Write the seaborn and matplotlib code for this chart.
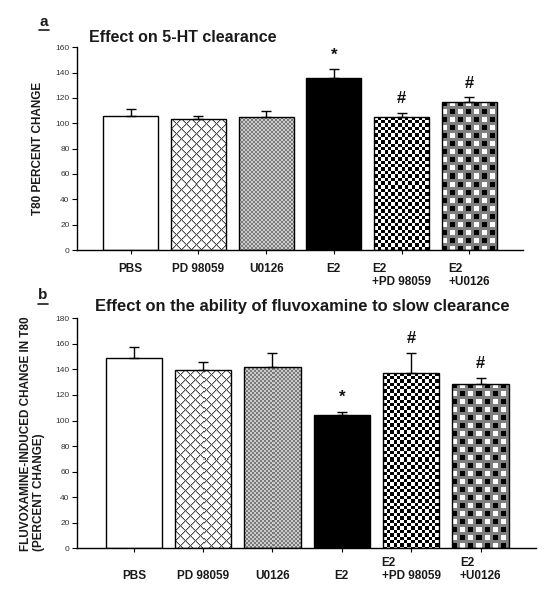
import numpy as np
import pandas as pd
import seaborn as sns
import matplotlib.pyplot as plt
from matplotlib.lines import Line2D

# ---------------- data ----------------
categories = ["PBS", "PD 98059", "U0126", "E2", "E2\n+PD 98059", "E2\n+U0126"]
clearance_mean = [105.8, 103.6, 104.7, 135.7, 105.3, 117.2]
clearance_sem = [5.8, 2.4, 5.3, 7.1, 2.9, 3.4]
fluvox_mean = [149.2, 139.5, 142.1, 104.5, 137.2, 128.8]
fluvox_sem = [8.1, 6.0, 10.9, 2.4, 15.8, 4.7]
marks = ["", "", "", "*", "#", "#"]
clearance_ticks = [0, 20, 40, 60, 80, 100, 120, 140, 160]
fluvox_ticks = [0, 20, 40, 60, 80, 100, 120, 140, 160, 180]
patterns = ["white", "cross", "fine", "black", "checker", "grid"]

sns.set_theme(style="ticks")
plt.rcParams["font.family"] = ["Liberation Sans", "DejaVu Sans"]

W, H = 545, 600
fig = plt.figure(figsize=(W / 100, H / 100), dpi=100)
fig.patch.set_facecolor("white")


def texture(kind, h, w):
    i, j = np.mgrid[0:h, 0:w]
    img = np.ones((h, w, 3))
    if kind == "cross":
        d1 = (i + j) % 10
        d2 = (i - j) % 10
        soft = (d1 == 1) | (d2 == 1)
        line = (d1 == 0) | (d2 == 0)
        img[soft] = 0.72
        img[line] = 0.30
    elif kind == "fine":
        c = ((i // 2 + j // 2) % 2).astype(bool)
        img[c] = 0.48
        img[~c] = 0.80
    elif kind == "checker":
        c = ((np.floor(i / 3.4) + np.floor(j / 3.4)) % 2).astype(bool)
        img[c] = 0.0
        img[~c] = 1.0
    elif kind == "grid":
        img[:] = 0.50
        sq = (i % 8 < 5) & (j % 8 < 5)
        blk = ((i // 8 + j // 8) % 2 == 0)
        img[sq & blk] = 0.0
        img[sq & ~blk] = 1.0
    return img


def panel(rect, means, sems, ticks, xlim, single_prefix, xpad):
    ax = fig.add_axes(rect)
    df = pd.DataFrame({"group": categories, "value": means})
    sns.barplot(data=df, x="group", y="value", order=categories, color="white",
                saturation=1, edgecolor="black", linewidth=1.0, width=0.81,
                errorbar=None, ax=ax)
    ax.set_xlim(*xlim)
    ax.set_ylim(ticks[0], ticks[-1])
    ax.set_autoscale_on(False)
    for p, kind in zip(ax.patches, patterns):
        if kind == "white":
            p.set_facecolor("white")
            continue
        if kind == "black":
            p.set_facecolor("black")
            continue
        p.set_facecolor("none")
        x0, y0, w, h = p.get_x(), p.get_y(), p.get_width(), p.get_height()
        (px0, py0) = ax.transData.transform((x0, y0))
        (px1, py1) = ax.transData.transform((x0 + w, y0 + h))
        npx = max(1, int(round(px1 - px0)))
        npy = max(1, int(round(py1 - py0)))
        im = ax.imshow(texture(kind, npy, npx), extent=(x0, x0 + w, y0, y0 + h),
                       origin="upper", interpolation="nearest", aspect="auto",
                       zorder=p.get_zorder() - 0.01)
        im.set_clip_path(p)
    ax.set_xlim(*xlim)
    ax.set_ylim(ticks[0], ticks[-1])
    xs = np.arange(len(categories))
    ax.errorbar(xs, means, yerr=[np.zeros(len(sems)), sems], fmt="none",
                ecolor="black", elinewidth=1.0, capsize=3.5, capthick=1.0, zorder=3)
    for x, m, s, t in zip(xs, means, sems, marks):
        if t:
            ax.text(x, m + s + 11, t, ha="center", va="center", fontsize=12,
                    fontweight="bold", color="#111111")
    ax.set_yticks(ticks)
    ax.set_yticklabels([str(t) for t in ticks])
    labs = [(single_prefix + c) if "\n" not in c else c for c in categories]
    ax.set_xticks(xs)
    ax.set_xticklabels(labs, fontsize=8.5, fontweight="bold", color="#1a1a1a",
                       multialignment="left", linespacing=1.1)
    ax.set_xlabel("")
    ax.tick_params(axis="y", direction="out", length=3.5, width=0.8, labelsize=6,
                   pad=2, labelcolor="#333333", color="black")
    ax.tick_params(axis="x", direction="out", length=3, width=0.8, pad=xpad,
                   color="black")
    sns.despine(ax=ax)
    for sp in ("left", "bottom"):
        ax.spines[sp].set_linewidth(1.0)
        ax.spines[sp].set_color("black")
    return ax


ax1 = panel([77.3 / W, 1 - 250 / H, (523 - 77.3) / W, (250 - 47.3) / H],
            clearance_mean, clearance_sem, clearance_ticks, (-0.79, 5.795), "", 6.5)
ax1.set_ylabel("T80 PERCENT CHANGE", fontsize=8.5, fontweight="bold", color="#1a1a1a")
ax1.yaxis.set_label_coords((44 - 77.3) / (523 - 77.3), 0.5)

ax2 = panel([77.3 / W, 1 - 548.3 / H, (536 - 77.3) / W, (548.3 - 318.3) / H],
            fluvox_mean, fluvox_sem, fluvox_ticks, (-0.815, 5.80), "\n", 3.5)
ax2.set_ylabel("FLUVOXAMINE-INDUCED CHANGE IN T80\n(PERCENT CHANGE)", fontsize=8.5,
               fontweight="bold", color="#1a1a1a", multialignment="left",
               linespacing=1.1)
ax2.yaxis.set_label_coords((45 - 77.3) / (536 - 77.3), 0.5)

fig.text(183 / W, 1 - 37 / H, "Effect on 5-HT clearance", ha="center", va="center",
         fontsize=11.5, fontweight="bold", color="#1a1a1a")
fig.text(302 / W, 1 - 307 / H, "Effect on the ability of fluvoxamine to slow clearance",
         ha="center", va="center", fontsize=11.9, fontweight="bold", color="#1a1a1a")

fig.text(44 / W, 1 - 22 / H, "a", ha="center", va="center", fontsize=11,
         fontweight="bold", color="#1a1a1a")
fig.add_artist(Line2D([39 / W, 49 / W], [1 - 30 / H, 1 - 30 / H], color="#1a1a1a", lw=1.2))
fig.text(43 / W, 1 - 295 / H, "b", ha="center", va="center", fontsize=11,
         fontweight="bold", color="#1a1a1a")
fig.add_artist(Line2D([38 / W, 48 / W], [1 - 304 / H, 1 - 304 / H], color="#1a1a1a", lw=1.2))

fig.savefig("out.png", dpi=100, facecolor="white")
